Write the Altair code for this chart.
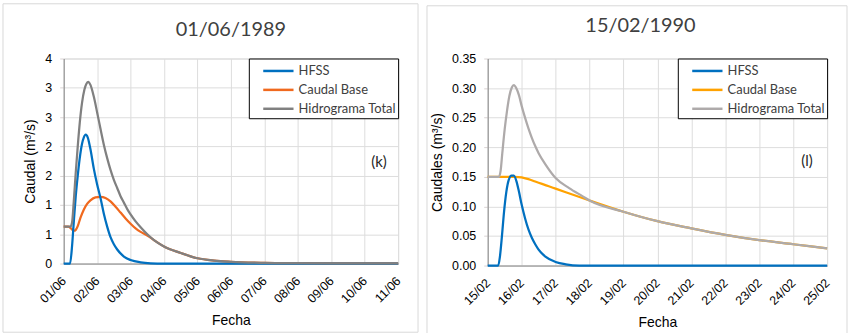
import json
import altair as alt
import pandas as pd

# ---------------- data ----------------
SERIES = ["HFSS", "Caudal Base", "Hidrograma Total"]

TICKS_K = ["01/06", "02/06", "03/06", "04/06", "05/06", "06/06",
           "07/06", "08/06", "09/06", "10/06", "11/06"]
TICKS_L = ["15/02", "16/02", "17/02", "18/02", "19/02", "20/02",
           "21/02", "22/02", "23/02", "24/02", "25/02"]

Y_TICKS_K = [0, 0.5, 1, 1.5, 2, 2.5, 3, 3.5]
Y_TICKS_L = [0, 0.05, 0.10, 0.15, 0.20, 0.25, 0.30, 0.35]

# Event (k) 01/06/1989 -- time in days since 01/06 00:00, flow in m3/s
k_hfss_t = [0, 0.19, 0.25, 0.30, 0.36, 0.42, 0.48, 0.55, 0.60, 0.66, 0.72, 0.80,
            0.90, 1.00, 1.10, 1.20, 1.30, 1.40, 1.50, 1.60, 1.80, 2.00, 2.30, 2.60, 3.00, 10]
k_hfss_q = [0, 0, 0.30, 0.70, 1.15, 1.50, 1.80, 2.05, 2.15, 2.20, 2.15, 1.95,
            1.62, 1.35, 1.12, 0.85, 0.63, 0.45, 0.33, 0.24, 0.12, 0.06, 0.02, 0.005, 0, 0]

k_base_t = [0, 0.14, 0.20, 0.26, 0.31, 0.36, 0.42, 0.50, 0.60, 0.70, 0.80, 0.95, 1.10, 1.25,
            1.40, 1.55, 1.70, 1.85, 2.00, 2.15, 2.30, 2.50, 2.70, 3.00, 3.50, 4.00,
            4.50, 5.00, 6.00, 7.00, 8.00, 10]
k_base_q = [0.63, 0.63, 0.61, 0.575, 0.56, 0.575, 0.64, 0.78, 0.92, 1.02, 1.08, 1.13, 1.14, 1.12,
            1.06, 0.97, 0.87, 0.77, 0.68, 0.60, 0.54, 0.48, 0.40, 0.29, 0.18, 0.09,
            0.05, 0.03, 0.012, 0.006, 0.003, 0.001]

k_total_t = [0, 0.20, 0.25, 0.30, 0.36, 0.42, 0.48, 0.55, 0.62, 0.68, 0.74, 0.80,
             0.90, 1.00, 1.10, 1.20, 1.30, 1.40, 1.50, 1.60, 1.70, 1.80, 1.90, 2.00,
             2.15, 2.30, 2.50, 2.70, 3.00, 3.50, 4.00, 4.50, 5.00, 6.00, 7.00, 8.00, 10]
k_total_q = [0.63, 0.63, 0.70, 1.05, 1.55, 2.00, 2.40, 2.75, 2.97, 3.07, 3.10, 3.05,
             2.85, 2.58, 2.30, 2.03, 1.80, 1.60, 1.43, 1.29, 1.15, 1.04, 0.93, 0.84,
             0.72, 0.62, 0.50, 0.40, 0.29, 0.18, 0.09, 0.05, 0.03, 0.012, 0.006, 0.003, 0.001]

# Event (l) 15/02/1990
l_hfss_t = [0, 0.31, 0.36, 0.42, 0.48, 0.55, 0.62, 0.70, 0.77, 0.85, 0.92, 1.00,
            1.10, 1.20, 1.30, 1.40, 1.50, 1.70, 2.00, 2.30, 2.70, 10]
l_hfss_q = [0, 0, 0.015, 0.05, 0.09, 0.125, 0.145, 0.152, 0.152, 0.142, 0.125, 0.103,
            0.080, 0.061, 0.047, 0.036, 0.027, 0.015, 0.006, 0.002, 0, 0]

l_base_t = [0, 0.80, 1.00, 1.20, 1.40, 1.60, 1.80, 2.00, 2.30, 2.60, 3.00,
            4.00, 5.00, 6.00, 7.00, 8.00, 9.00, 10]
l_base_q = [0.150, 0.150, 0.149, 0.146, 0.142, 0.138, 0.134, 0.130, 0.124, 0.118, 0.110,
            0.091, 0.075, 0.063, 0.052, 0.043, 0.036, 0.029]

l_total_t = [0, 0.33, 0.38, 0.43, 0.50, 0.57, 0.64, 0.71, 0.77, 0.84, 0.92, 1.00,
             1.10, 1.20, 1.30, 1.40, 1.50, 1.70, 2.00, 2.40, 2.80, 3.00,
             4.00, 5.00, 6.00, 7.00, 8.00, 9.00, 10]
l_total_q = [0.150, 0.150, 0.160, 0.190, 0.230, 0.262, 0.287, 0.301, 0.305, 0.300, 0.288, 0.270,
             0.250, 0.232, 0.216, 0.202, 0.190, 0.171, 0.148, 0.131, 0.117, 0.110,
             0.091, 0.075, 0.063, 0.052, 0.043, 0.036, 0.029]

K_NOTE = {"dia": [9.43], "q": [1.73], "txt": ["(k)"]}
L_NOTE = {"dia": [9.41], "q": [0.177], "txt": ["(l)"]}


def long_df(parts):
    rows = []
    for name, ts, qs in parts:
        for t, q in zip(ts, qs):
            rows.append({"dia": t, "q": q, "serie": name})
    return pd.DataFrame(rows)


df_k = long_df([("HFSS", k_hfss_t, k_hfss_q),
                ("Caudal Base", k_base_t, k_base_q),
                ("Hidrograma Total", k_total_t, k_total_q)])
df_l = long_df([("HFSS", l_hfss_t, l_hfss_q),
                ("Caudal Base", l_base_t, l_base_q),
                ("Hidrograma Total", l_total_t, l_total_q)])

FONT = "Lato"
GRID = "#d9d3d3"
TXT = "#595959"


def panel(df, ticks, title, ytitle, ymax, yvals, ylabel_expr, colors, note,
          width, height, top, title_dy, title_dx):
    xenc = alt.X("dia:Q", title="Fecha",
                 scale=alt.Scale(domain=[0, 10], nice=False, zero=False),
                 axis=alt.Axis(tickCount=30, values=list(range(len(ticks))),
                               labelExpr=json.dumps(ticks) + "[round(datum.value)]",
                               labelAngle=-45, labelAlign="right", labelBaseline="middle",
                               labelPadding=15, ticks=False, titlePadding=9,
                               labelOverlap=False, labelFlush=False,
                               titleFontWeight="normal", titleFontSize=14,
                               labelFontSize=12.5))
    yenc = alt.Y("q:Q", title=ytitle,
                 scale=alt.Scale(domain=[0, ymax], nice=False),
                 axis=alt.Axis(tickCount=30, values=yvals, labelExpr=ylabel_expr,
                               ticks=True, tickSize=4, tickColor=GRID,
                               labelPadding=8, titlePadding=7,
                               labelOverlap=False, labelFlush=False,
                               titleFontWeight="normal", titleFontSize=14,
                               labelFontSize=12.5))
    legend = alt.Legend(title=None, orient="top-right", offset=0,
                        strokeColor="#000000", fillColor="#ffffff", padding=2,
                        symbolType="M0.22,0H3.6", symbolSize=324, symbolStrokeWidth=2.5,
                        labelOffset=27, rowPadding=1, labelFontSize=13, labelFont=FONT,
                        labelColor="#404040", labelLimit=220,
                        labelExpr="datum.label + '\u00a0\u00a0\u00a0'")
    cenc = alt.Color("serie:N", scale=alt.Scale(domain=SERIES, range=colors), legend=legend)

    border = alt.Chart(alt.Data(values=[{"a": 1}])).mark_rect(
        fillOpacity=0, stroke="#d9d9d9", strokeWidth=1
    ).encode(x=alt.value(-61), x2=alt.value(width + 20),
             y=alt.value(top), y2=alt.value(height + 69))

    layers = [border]
    for s in ["Caudal Base", "HFSS", "Hidrograma Total"]:
        layers.append(
            alt.Chart(df).transform_filter(alt.datum.serie == s)
            .mark_line(strokeWidth=2.25, interpolate="monotone")
            .encode(x=xenc, y=yenc, color=cenc)
        )
    layers.append(
        alt.Chart(pd.DataFrame(note)).mark_text(font=FONT, fontSize=15, color="#262626")
        .encode(x=xenc, y=yenc, text="txt:N")
    )
    return alt.layer(*layers).properties(
        width=width, height=height,
        title=alt.Title(title, fontSize=20, font=FONT, fontWeight="normal", color="#404040",
                        anchor="middle", frame="group", offset=0, dy=title_dy, dx=title_dx),
    )


left = panel(df_k, TICKS_K, "01/06/1989", "Caudal (m³/s)", 3.5, Y_TICKS_K,
             "format(round(datum.value), 'd')",
             ["#0070C0", "#F0691E", "#808080"], K_NOTE,
             336, 206, -55, 37, 0)
right = panel(df_l, TICKS_L, "15/02/1990", "Caudales (m³/s)", 0.35, Y_TICKS_L,
              "format(datum.value, '.2f')",
              ["#0070C0", "#FFA200", "#AEAAAA"], L_NOTE,
              341, 208, -53, 31, -17)

chart = alt.hconcat(left, right, spacing=7).resolve_scale(
    color="independent"
).resolve_legend(color="independent").properties(
    padding={"left": 2, "top": 2, "right": 2, "bottom": 1}
).configure_view(stroke=GRID).configure_axis(
    gridColor=GRID, domainColor=GRID, labelColor=TXT, titleColor=TXT,
    labelFont=FONT, titleFont=FONT, labelFontSize=12, titleFontSize=13,
    titleFontWeight="normal"
).configure(background="white")

chart.save("out.html", embed_options={"renderer": "svg", "actions": False})
